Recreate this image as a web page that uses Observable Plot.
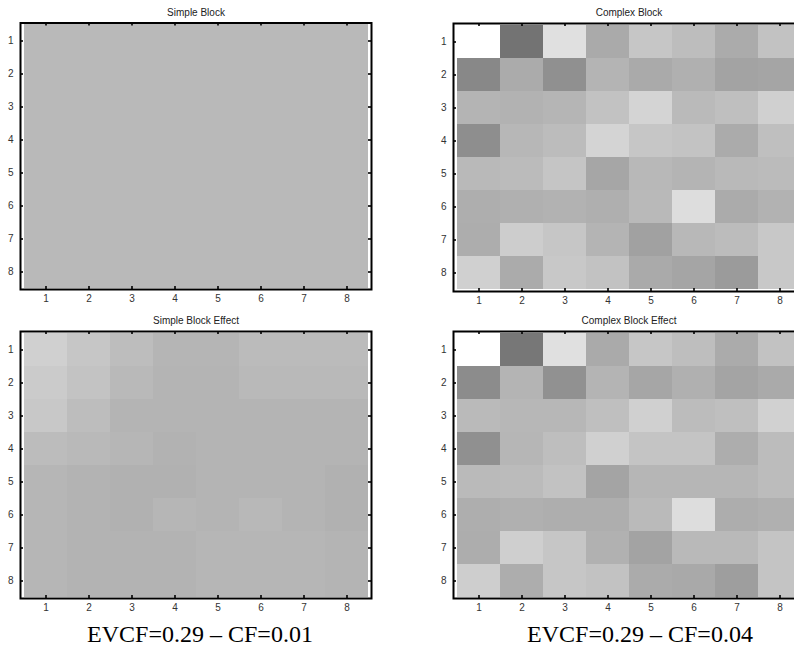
<!DOCTYPE html>
<html>
<head>
<meta charset="utf-8">
<script src="https://cdn.jsdelivr.net/npm/d3@7"></script>
<script src="https://cdn.jsdelivr.net/npm/@observablehq/plot@0.6"></script>
<style>
  html, body { margin: 0; padding: 0; background: #fff; }
  #wrap { position: relative; width: 794px; height: 653px; overflow: hidden; background: #fff; }
  .panel { position: absolute; width: 380px; }
  .panel svg { max-width: none !important; }
  .caption { position: absolute; font-family: "Liberation Serif", "Times New Roman", serif; font-size: 24px; color: #000; white-space: pre; transform: translateX(-50%); }
</style>
</head>
<body>
<div id="wrap"></div>
<script>
// ---- data (gray levels 0..255) ----
const rowLabels = [1, 2, 3, 4, 5, 6, 7, 8];
const colLabels = [1, 2, 3, 4, 5, 6, 7, 8];

const titles = ["Simple Block", "Complex Block", "Simple Block Effect", "Complex Block Effect"];
const captions = ["EVCF=0.29 \u2013 CF=0.01", "EVCF=0.29 \u2013 CF=0.04"];

const simpleBlock = [
  [185, 185, 185, 185, 185, 185, 185, 185],
  [185, 185, 185, 185, 185, 185, 185, 185],
  [185, 185, 185, 185, 185, 185, 185, 185],
  [185, 185, 185, 185, 185, 185, 185, 185],
  [185, 185, 185, 185, 185, 185, 185, 185],
  [185, 185, 185, 185, 185, 185, 185, 185],
  [185, 185, 185, 185, 185, 185, 185, 185],
  [185, 185, 185, 185, 185, 185, 185, 185]
];

const complexBlock = [
  [255, 115, 224, 170, 198, 189, 171, 194],
  [136, 171, 144, 180, 170, 176, 163, 165],
  [180, 178, 181, 194, 212, 186, 191, 208],
  [142, 183, 188, 212, 198, 195, 171, 191],
  [185, 187, 197, 166, 184, 180, 185, 187],
  [174, 176, 178, 175, 185, 221, 171, 178],
  [173, 205, 198, 180, 161, 184, 188, 200],
  [208, 171, 200, 194, 170, 165, 155, 200]
];

const simpleEffect = [
  [208, 198, 189, 181, 181, 187, 187, 187],
  [203, 195, 185, 180, 180, 185, 185, 185],
  [200, 189, 180, 180, 180, 180, 180, 180],
  [188, 185, 182, 178, 180, 180, 180, 180],
  [182, 179, 177, 177, 180, 180, 180, 177],
  [182, 179, 177, 182, 180, 184, 180, 177],
  [182, 179, 179, 179, 182, 182, 182, 180],
  [182, 179, 179, 179, 182, 182, 182, 180]
];

const complexEffect = [
  [255, 119, 224, 170, 198, 190, 171, 194],
  [140, 180, 145, 180, 166, 176, 164, 170],
  [186, 183, 183, 191, 208, 188, 191, 209],
  [144, 182, 190, 208, 196, 196, 173, 188],
  [186, 187, 194, 164, 182, 182, 182, 188],
  [174, 176, 174, 174, 186, 221, 173, 176],
  [173, 207, 198, 177, 163, 185, 185, 196],
  [206, 173, 198, 194, 171, 169, 158, 196]
];

// ---- drawing ----
function tidy(matrix) {
  return matrix.flatMap((row, i) => row.map((v, j) => ({row: rowLabels[i], col: colLabels[j], v})));
}

function panel(matrix, title, opts) {
  const {width, height, mt, mb, ml, mr} = opts;
  const fw = width - ml - mr, fh = height - mt - mb;
  const tl = 3, tw = 1.6;
  return Plot.plot({
    width, height,
    marginTop: mt, marginBottom: mb, marginLeft: ml, marginRight: mr,
    style: {fontFamily: "'Liberation Sans', Arial, sans-serif", fontSize: "10px", background: "transparent", overflow: "visible", maxWidth: "none"},
    x: {type: "band", domain: colLabels, padding: 0},
    y: {type: "band", domain: rowLabels, padding: 0},
    color: {type: "linear", domain: [0, 255], range: ["black", "white"], interpolate: "rgb"},
    marks: [
      Plot.cell(tidy(matrix), {x: "col", y: "row", fill: "v", inset: 0, shapeRendering: "crispEdges"}),
      // inward ticks on all four sides
      Plot.ruleX(colLabels, {x: d => d, insetBottom: fh - tl, stroke: "black", strokeWidth: tw}),
      Plot.ruleX(colLabels, {x: d => d, insetTop: fh - tl, stroke: "black", strokeWidth: tw}),
      Plot.ruleY(rowLabels, {y: d => d, insetRight: fw - tl, stroke: "black", strokeWidth: tw}),
      Plot.ruleY(rowLabels, {y: d => d, insetLeft: fw - tl, stroke: "black", strokeWidth: tw}),
      Plot.frame({stroke: "black", strokeWidth: 2}),
      Plot.axisX({anchor: "bottom", tickSize: 0, tickPadding: 5, label: null, fill: "#333", fontSize: 10}),
      Plot.axisY({anchor: "left", tickSize: 0, tickPadding: 7, label: null, fill: "#333", fontSize: 10}),
      Plot.text([title], {frameAnchor: "top", lineAnchor: "middle", dy: -10.5, fontSize: 10, fill: "#222"})
    ]
  });
}

const wrap = document.getElementById("wrap");
const layouts = [
  {m: simpleBlock,   left: 0,   top: 0,   o: {width: 380, height: 310, mt: 22.5, mb: 21, ml: 20, mr: 9}},
  {m: complexBlock,  left: 433, top: 0,   o: {width: 380, height: 310, mt: 23,   mb: 19, ml: 20, mr: 9}},
  {m: simpleEffect,  left: 0,   top: 309, o: {width: 380, height: 310, mt: 22,   mb: 21, ml: 20, mr: 9}},
  {m: complexEffect, left: 433, top: 309, o: {width: 380, height: 310, mt: 22,   mb: 21, ml: 20, mr: 9}}
];
layouts.forEach((L, i) => {
  const d = document.createElement("div");
  d.className = "panel";
  d.style.left = L.left + "px";
  d.style.top = L.top + "px";
  d.appendChild(panel(L.m, titles[i], L.o));
  wrap.appendChild(d);
});

const capPos = [[200, 621], [640, 621]];
captions.forEach((c, i) => {
  const d = document.createElement("div");
  d.className = "caption";
  d.textContent = c;
  d.style.left = capPos[i][0] + "px";
  d.style.top = capPos[i][1] + "px";
  wrap.appendChild(d);
});
</script>
</body>
</html>
